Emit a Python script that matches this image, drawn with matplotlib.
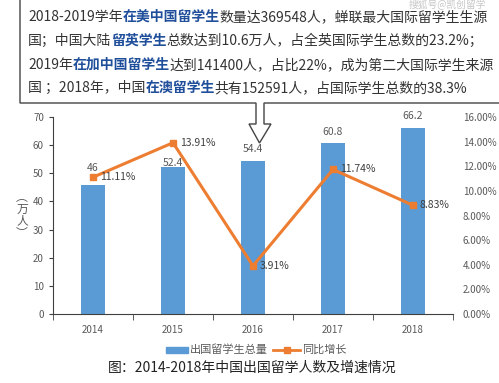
import matplotlib
matplotlib.use("Agg")
import matplotlib.pyplot as plt
from matplotlib.patches import Polygon, Rectangle
from matplotlib.lines import Line2D

plt.rcParams['font.family'] = ['Noto Sans CJK SC', 'DejaVu Sans']

years = ["2014", "2015", "2016", "2017", "2018"]
totals = [46, 52.4, 54.4, 60.8, 66.2]          # 万人
growth = [11.11, 13.91, 3.91, 11.74, 8.83]     # %

bar_color = "#5B9BD5"
line_color = "#ED7D31"
blue_text = "#1F4E9A"
dark_text = "#333333"
tick_color = "#595959"

W, H = 499, 383
fig = plt.figure(figsize=(W / 100, H / 100), dpi=100)

def fx(px):
    return px / W

def fy(py):
    return 1 - py / H

ax = fig.add_axes([fx(53), fy(314), fx(453) - fx(53), fy(117) - fy(314)])
ax2 = ax.twinx()

x = range(len(years))
ax.bar(x, totals, width=0.31, color=bar_color, zorder=2)
# bar label lift (pixels above the bar top), nudged where the line gets in the way
lift = [17, 4, 12, 11, 12]
for i, v in enumerate(totals):
    ax.annotate(f"{v:g}", (i, v), xytext=(0, lift[i]), textcoords="offset pixels",
                ha="center", va="center", fontsize=7.5, color=tick_color)

ax2.plot(x, growth, color=line_color, lw=2.2, marker="s", ms=5, zorder=3)
for i, g in enumerate(growth):
    ax2.annotate(f"{g:.2f}%", (i, g), xytext=(7, 0), textcoords="offset pixels",
                 ha="left", va="center", fontsize=7.5, color="#404040")

ax.set_xlim(-0.5, len(years) - 0.5)
ax.set_ylim(0, 70)
ax.set_yticks(range(0, 71, 10))
ax2.set_ylim(0, 16)
ax2.set_yticks(range(0, 17, 2))
ax2.set_yticklabels([f"{t:.2f}%" for t in range(0, 17, 2)])

ax.set_xticks(list(x))
ax.set_xticklabels(years)
ax.set_xticks([i - 0.5 for i in range(len(years) + 1)], minor=True)
ax.tick_params(axis="x", which="major", length=0, labelsize=7, labelcolor=tick_color, pad=8)
ax.tick_params(axis="x", which="minor", length=4, color="#404040", direction="out")
ax.tick_params(axis="y", length=3, labelsize=7, labelcolor=tick_color, color="#404040")
ax2.tick_params(axis="y", length=0, labelsize=7, labelcolor=tick_color, pad=7)

for a in (ax, ax2):
    a.spines["top"].set_visible(False)
    a.spines["right"].set_visible(False)
ax2.spines["left"].set_visible(False)
ax2.spines["bottom"].set_visible(False)
ax.spines["left"].set_color("#404040")
ax.spines["bottom"].set_color("#404040")

fig.text(fx(22), fy(215), "︵\n万\n人\n︶", ha="center", va="center",
         fontsize=8.5, color=tick_color, linespacing=0.9)

# legend
fig.patches.append(Rectangle((fx(166), fy(353)), fx(22), fy(347) - fy(353),
                             transform=fig.transFigure, color=bar_color))
fig.text(fx(190), fy(350), "出国留学生总量", ha="left", va="center", fontsize=8, color=tick_color)
fig.lines.append(Line2D([fx(273), fx(300)], [fy(350), fy(350)], transform=fig.transFigure,
                        color=line_color, lw=2))
fig.lines.append(Line2D([fx(286.5)], [fy(350)], transform=fig.transFigure,
                        color=line_color, marker="s", ms=4, ls="none"))
fig.text(fx(302), fy(350), "同比增长", ha="left", va="center", fontsize=8, color=tick_color)

fig.text(fx(108), fy(368), "图：2014-2018年中国出国留学人数及增速情况", ha="left", va="center",
         fontsize=10, color="#222222")

# callout box with arrow
outline = [(20, -5), (20, 103), (256, 103), (256, 124), (249, 124), (259.5, 143), (271, 124),
           (264, 124), (264, 103), (505, 103), (505, -5)]
fig.patches.append(Polygon([(fx(px), fy(py)) for px, py in outline], closed=True,
                           transform=fig.transFigure, facecolor="white", edgecolor="#444444", lw=1))

lines = [
    [("2018-2019学年", dark_text), ("在美中国留学生", blue_text), ("数量达369548人，蝉联最大国际留学生生源", dark_text)],
    [("国；中国大陆", dark_text), ("留英学生", blue_text), ("总数达到10.6万人，占全英国际学生总数的23.2%；", dark_text)],
    [("2019年", dark_text), ("在加中国留学生", blue_text), ("达到141400人，占比22%，成为第二大国际学生来源", dark_text)],
    [("国 ；2018年，中国", dark_text), ("在澳留学生", blue_text), ("共有152591人，占国际学生总数的38.3%", dark_text)],
]
line_y = [17, 41, 65, 88]

renderer = fig.canvas.get_renderer()
for segs, py in zip(lines, line_y):
    cur = 28
    for s, c in segs:
        t = fig.text(fx(cur), fy(py), s, ha="left", va="center", fontsize=10, color=c,
                     fontweight="bold" if c == blue_text else "normal")
        cur += t.get_window_extent(renderer).width

fig.text(fx(486), fy(5), "搜狐号@凯创留学", ha="right", va="center", fontsize=7, color="#b8b8b8", alpha=0.8)

fig.savefig("out.png", dpi=100)
